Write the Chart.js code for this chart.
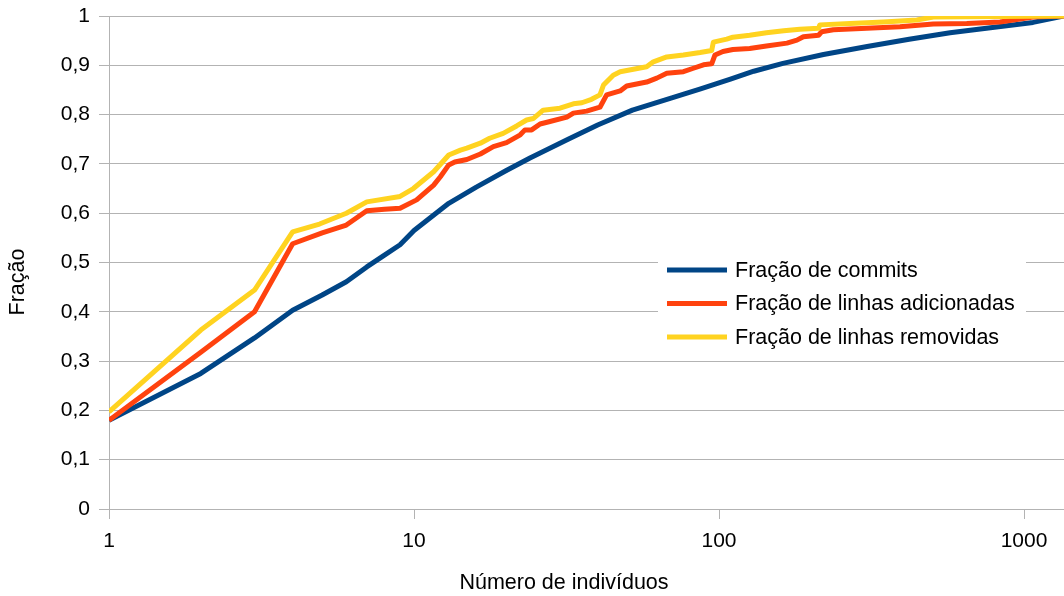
<!DOCTYPE html>
<html>
<head>
<meta charset="utf-8">
<script src="https://cdn.jsdelivr.net/npm/chart.js@4/dist/chart.umd.min.js"></script>
<style>
  html, body { margin: 0; padding: 0; background: #fff; }
  canvas { display: block; }
</style>
</head>
<body>
<canvas id="chart" width="1064" height="596"></canvas>
<script>
// eixo x (log): número de indivíduos
const xTicks = [1, 10, 100, 1000];
const xMax = 1352;
const yTicks = [0, 0.1, 0.2, 0.3, 0.4, 0.5, 0.6, 0.7, 0.8, 0.9, 1];

const seriesLabels = ["Fração de commits", "Fração de linhas adicionadas", "Fração de linhas removidas"];
const seriesColors = ["#004586", "#ff420e", "#ffd320"];

// Fração de commits
const commitsN = [1, 2, 3, 4, 5, 6, 7, 8, 9, 10, 13, 16, 20, 24, 32, 40, 52, 70, 87, 109, 130, 162, 220, 306, 420, 572, 800, 1070, 1352];
const commitsFrac = [0.18, 0.275, 0.347, 0.403, 0.434, 0.461, 0.491, 0.515, 0.536, 0.565, 0.62, 0.653, 0.686, 0.712, 0.75, 0.779, 0.809, 0.834, 0.852, 0.872, 0.888, 0.904, 0.922, 0.938, 0.953, 0.966, 0.977, 0.987, 1.0];

// Fração de linhas adicionadas
const addedN = [1, 2, 3, 4, 5, 6, 7, 8, 9, 10.2, 11.6, 12.2, 13, 13.6, 14.9, 16.5, 18.2, 20.1, 22.3, 23.1, 24.3, 25.9, 27.9, 31.7, 33.3, 36.8, 40.7, 42.8, 47.4, 49.8, 57.9, 62.5, 67.4, 76.4, 82.4, 88.9, 94.6, 97, 103, 111, 126, 143, 167, 180, 189, 212, 217, 237, 305, 392, 504, 649, 834, 946, 1071, 1352];
const addedFrac = [0.18, 0.318, 0.40, 0.538, 0.56, 0.576, 0.605, 0.608, 0.61, 0.627, 0.657, 0.674, 0.698, 0.704, 0.709, 0.72, 0.735, 0.743, 0.759, 0.769, 0.769, 0.781, 0.786, 0.795, 0.803, 0.807, 0.815, 0.84, 0.848, 0.858, 0.866, 0.874, 0.884, 0.887, 0.894, 0.901, 0.903, 0.921, 0.928, 0.932, 0.934, 0.939, 0.945, 0.951, 0.958, 0.961, 0.968, 0.972, 0.975, 0.978, 0.984, 0.985, 0.988, 0.993, 0.998, 1.0];

// Fração de linhas removidas
const removedN = [1, 2, 3, 4, 4.9, 6, 7, 9, 9.95, 11.6, 13, 14.2, 14.9, 16.5, 17.7, 19.6, 21.7, 23.4, 24.6, 26.5, 30.1, 33.3, 35.5, 38.2, 40.7, 41.8, 45, 47.4, 52.4, 57.9, 60.9, 67.4, 76.4, 86.7, 94.6, 95.8, 106, 111, 126, 143, 163, 184, 212, 214, 269, 346, 445, 504, 1352];
const removedFrac = [0.197, 0.363, 0.444, 0.562, 0.578, 0.60, 0.623, 0.634, 0.65, 0.684, 0.718, 0.728, 0.732, 0.742, 0.752, 0.762, 0.777, 0.789, 0.792, 0.809, 0.813, 0.822, 0.824, 0.831, 0.84, 0.86, 0.88, 0.887, 0.892, 0.897, 0.907, 0.917, 0.921, 0.926, 0.93, 0.947, 0.953, 0.957, 0.961, 0.966, 0.97, 0.973, 0.975, 0.982, 0.985, 0.988, 0.992, 0.998, 1.0];

const FONT = "'Liberation Sans', Arial, sans-serif";
const GRID = "#b3b3b3";

function toPoints(xs, ys) {
  return xs.map((x, i) => ({ x: x, y: ys[i] }));
}

function formatFrac(v) {
  const r = Math.round(v * 10) / 10;
  return String(r).replace(".", ",");
}

// títulos dos eixos e legenda desenhados à mão (posições do LibreOffice)
const extrasPlugin = {
  id: "extras",
  afterDraw(chart) {
    const ctx = chart.ctx;
    ctx.save();
    ctx.fillStyle = "#000";
    ctx.font = "21.5px " + FONT;
    ctx.textAlign = "center";
    ctx.textBaseline = "middle";
    ctx.fillText("Número de indivíduos", 564, 583);
    ctx.translate(18, 282);
    ctx.rotate(-Math.PI / 2);
    ctx.fillText("Fração", 0, 0);
    ctx.restore();

    // legenda
    ctx.save();
    ctx.fillStyle = "#fff";
    ctx.fillRect(658, 252, 368, 102);
    ctx.font = "21.5px " + FONT;
    ctx.textAlign = "left";
    ctx.textBaseline = "middle";
    chart.data.datasets.forEach((ds, i) => {
      const y = 270 + i * 33.5;
      ctx.strokeStyle = ds.borderColor;
      ctx.lineWidth = 5;
      ctx.beginPath();
      ctx.moveTo(667, y);
      ctx.lineTo(727, y);
      ctx.stroke();
      ctx.fillStyle = "#000";
      ctx.fillText(ds.label, 735, y + 1);
    });
    ctx.restore();
  }
};

const datasets = [
  toPoints(commitsN, commitsFrac),
  toPoints(addedN, addedFrac),
  toPoints(removedN, removedFrac)
].map((pts, i) => ({
  label: seriesLabels[i],
  data: pts,
  borderColor: seriesColors[i],
  backgroundColor: seriesColors[i],
  borderWidth: 5,
  pointRadius: 0,
  tension: 0,
  fill: false,
  borderJoinStyle: "round"
}));
// ordem de desenho: azul por baixo, amarelo por cima
datasets[0].order = 3;
datasets[1].order = 2;
datasets[2].order = 1;

new Chart(document.getElementById("chart"), {
  type: "line",
  data: { datasets: datasets },
  options: {
    responsive: false,
    animation: false,
    devicePixelRatio: 1,
    layout: { padding: { top: 16, left: 0, right: 0, bottom: 0 } },
    plugins: {
      legend: { display: false },
      tooltip: { enabled: false }
    },
    scales: {
      x: {
        type: "logarithmic",
        min: 1,
        max: xMax,
        afterBuildTicks: (scale) => {
          scale.ticks = xTicks.map(v => ({ value: v, major: true }));
        },
        afterFit: (scale) => {
          scale.height = 87;
          scale.paddingLeft = 0;
          scale.paddingRight = 0;
        },
        ticks: {
          color: "#000",
          font: { family: FONT, size: 21 },
          padding: 10,
          maxRotation: 0,
          autoSkip: false,
          callback: (v) => String(v)
        },
        grid: { drawOnChartArea: false, drawTicks: true, tickLength: 10, color: GRID },
        border: { display: true, color: GRID }
      },
      y: {
        min: 0,
        max: 1,
        afterBuildTicks: (scale) => {
          scale.ticks = yTicks.map(v => ({ value: v }));
        },
        afterFit: (scale) => {
          scale.width = 109;
          scale.paddingTop = 0;
          scale.paddingBottom = 0;
        },
        ticks: {
          color: "#000",
          font: { family: FONT, size: 21 },
          padding: 9,
          callback: (v) => formatFrac(v)
        },
        grid: { color: GRID, tickLength: 10 },
        border: { display: true, color: GRID }
      }
    }
  },
  plugins: [extrasPlugin]
});
</script>
</body>
</html>
